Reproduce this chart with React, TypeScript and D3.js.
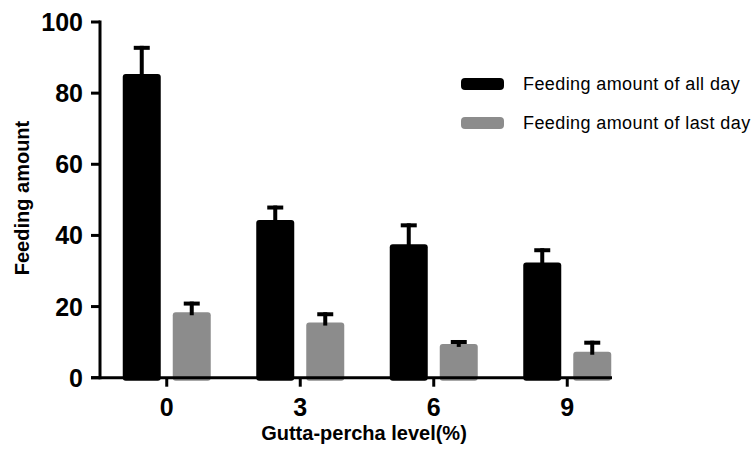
import { useEffect, useRef } from 'react';
import * as d3 from 'd3';

const categories = ['0', '3', '6', '9'];
const allDay = [85.4, 44.3, 37.5, 32.4];
const allDayErr = [7.9, 4.1, 5.9, 4];
const lastDay = [18.4, 15.5, 9.5, 7.3];
const lastDayErr = [3, 2.9, 1.1, 3.1];
const yTicks = [0, 20, 40, 60, 80, 100];
const seriesNames = ['Feeding amount of all day', 'Feeding amount of last day'];

const App = () => {
  const chartRef = useRef<SVGSVGElement>(null);
  const colors = ['#000000', '#8c8c8c'];

  useEffect(() => {
    if (!chartRef.current) return;
    d3.select(chartRef.current).selectAll('*').remove();
    const svg = d3.select(chartRef.current);
    const font = 'Arial, "Liberation Sans", Helvetica, sans-serif';

    const y = d3.scaleLinear().domain([0, 100]).range([377.7, 22]);
    const x = d3.scaleBand<string>().domain(categories).range([100, 634]).padding(0);
    const center = (c: string) => (x(c) as number) + x.bandwidth() / 2;

    const barW = 38;
    const gap = 6;
    const series = [
      { vals: allDay, errs: allDayErr, off: -gap - barW, color: colors[0] },
      { vals: lastDay, errs: lastDayErr, off: gap, color: colors[1] },
    ];

    // Bars + error bars (upper only, always black)
    series.forEach(s => {
      const g = svg.append('g');
      categories.forEach((c, i) => {
        const x0 = center(c) + s.off;
        const top = y(s.vals[i]);
        const errTop = y(s.vals[i] + s.errs[i]);
        g.append('rect')
          .attr('x', x0)
          .attr('y', top)
          .attr('width', barW)
          .attr('height', y(0) - top + 3)
          .attr('rx', 3)
          .attr('fill', s.color);
        g.append('rect')
          .attr('x', x0 + barW / 2 - 2)
          .attr('y', errTop)
          .attr('width', 4)
          .attr('height', top - errTop + 3)
          .attr('fill', '#000');
        g.append('rect')
          .attr('x', x0 + barW / 2 - 8)
          .attr('y', errTop)
          .attr('width', 16)
          .attr('height', 4)
          .attr('fill', '#000');
      });
    });

    // Y axis
    const axisX = 100;
    svg.append('line')
      .attr('x1', axisX).attr('x2', axisX)
      .attr('y1', y(100) - 1.5).attr('y2', y(0) + 1.5)
      .attr('stroke', '#000').attr('stroke-width', 3);
    yTicks.forEach(t => {
      svg.append('line')
        .attr('x1', axisX - 9).attr('x2', axisX)
        .attr('y1', y(t)).attr('y2', y(t))
        .attr('stroke', '#000').attr('stroke-width', 3);
      svg.append('text')
        .attr('x', 83)
        .attr('y', y(t))
        .attr('dy', '0.36em')
        .attr('text-anchor', 'end')
        .style('font-family', font)
        .style('font-size', '25px')
        .style('font-weight', 'bold')
        .text(t);
    });

    // X axis
    svg.append('line')
      .attr('x1', 91).attr('x2', 612)
      .attr('y1', y(0)).attr('y2', y(0))
      .attr('stroke', '#000').attr('stroke-width', 3);
    categories.forEach(c => {
      svg.append('line')
        .attr('x1', center(c)).attr('x2', center(c))
        .attr('y1', y(0)).attr('y2', y(0) + 9)
        .attr('stroke', '#000').attr('stroke-width', 3);
      svg.append('text')
        .attr('x', center(c))
        .attr('y', 416)
        .attr('text-anchor', 'middle')
        .style('font-family', font)
        .style('font-size', '25px')
        .style('font-weight', 'bold')
        .text(c);
    });

    // Axis titles
    svg.append('text')
      .attr('x', 364)
      .attr('y', 440)
      .attr('text-anchor', 'middle')
      .style('font-family', font)
      .style('font-size', '20px')
      .style('font-weight', 'bold')
      .text('Gutta-percha level(%)');
    svg.append('text')
      .attr('transform', 'translate(29, 198) rotate(-90)')
      .attr('text-anchor', 'middle')
      .style('font-family', font)
      .style('font-size', '20px')
      .style('font-weight', 'bold')
      .text('Feeding amount');

    // Legend
    const legend = svg.selectAll('.legend')
      .data(seriesNames)
      .enter()
      .append('g')
      .attr('class', 'legend')
      .attr('transform', (d, i) => `translate(461, ${78 + i * 39})`);
    legend.append('rect')
      .attr('width', 43)
      .attr('height', 12)
      .attr('rx', 4)
      .attr('fill', (d, i) => colors[i]);
    legend.append('text')
      .attr('x', 62)
      .attr('y', 12)
      .style('font-family', font)
      .style('font-size', '18px')
      .style('letter-spacing', '0.4px')
      .text(d => d);
  }, []);

  return (
    <svg
      ref={chartRef}
      width={756}
      height={454}
      style={{ position: 'absolute', left: 0, top: 0, background: '#fff' }}
    />
  );
};

export default App;
